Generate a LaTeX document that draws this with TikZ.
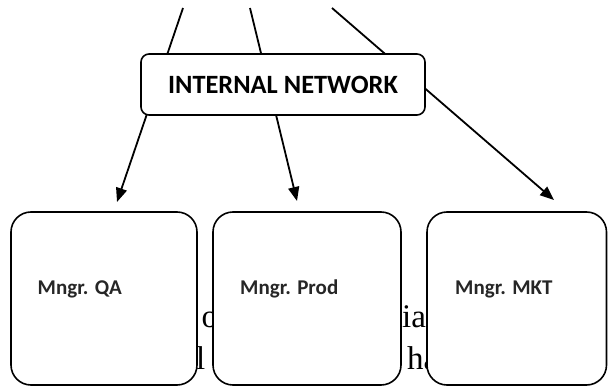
\documentclass[tikz,border=0pt]{standalone}
\usepackage{fontspec}
\setmainfont{Liberation Serif}
\newfontfamily\labelfont{Carlito}
\usetikzlibrary{arrows.meta}
\tikzset{
  conn/.style={line width=1.8pt, -{Triangle[length=14pt,width=11pt]}},
  netbox/.style={draw, line width=1.6pt, fill=white, rounded corners=8pt, minimum width=284pt, minimum height=61pt, inner sep=0pt, font=\labelfont\bfseries\fontsize{26.4}{30}\selectfont},
  mbox/.style={draw, line width=1.6pt, fill=white, rounded corners=20pt, minimum height=173pt, inner sep=0pt},
  mlabel/.style={anchor=base west, inner sep=0pt, font=\labelfont\bfseries\fontsize{21}{24}\selectfont, text=black!85},
  bgtext/.style={anchor=base west, inner sep=0pt, font=\fontsize{33}{40}\selectfont}
}
\begin{document}
\begin{tikzpicture}[x=1pt,y=-1pt]
\useasboundingbox (0,0) rectangle (608,387);
% background document text, partly hidden by the boxes
\node[bgtext] (b1) at (201.5,328) {o};
\node[bgtext] (b2) at (402,328) {ian};
\node[bgtext] (b3) at (196,370) {l};
\node[bgtext] (b4) at (407,370) {ha};
% connectors
\coordinate (t1) at (183,8);
\coordinate (t2) at (250,8);
\coordinate (t3) at (332,8);
\coordinate (h1) at (117,202);
\coordinate (h2) at (297,201);
\coordinate (h3) at (554,200);
\draw[conn] (t1) -- (h1);
\draw[conn] (t2) -- (h2);
\draw[conn] (t3) -- (h3);
% internal network
\node[netbox] (net) at (283,84.5) {INTERNAL NETWORK};
% managers
\node[mbox, minimum width=186pt] (qa) at (104,298.5) {};
\node[mbox, minimum width=188pt] (prod) at (307,298.5) {};
\node[mbox, minimum width=179.5pt] (mkt) at (516.75,298.5) {};
\node[mlabel] (qat) at (37.5,295) {Mngr. QA};
\node[mlabel] (prodt) at (240,295) {Mngr. Prod};
\node[mlabel] (mktt) at (455,295) {Mngr. MKT};
\end{tikzpicture}
\end{document}
